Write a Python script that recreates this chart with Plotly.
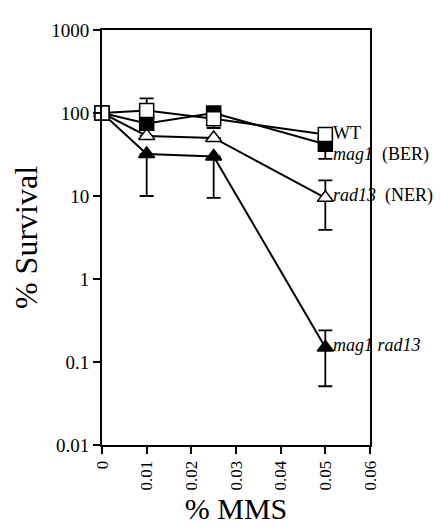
import math
import plotly.graph_objects as go

mms = [0, 0.01, 0.025, 0.05]

wt = [100, 107, 85, 55]
wt_up = [0, 43, 0, 0]
wt_dn = [0, 0, 19, 0]

mag1 = [100, 75, 100, 42]
mag1_up = [0, 0, 0, 0]
mag1_dn = [0, 0, 0, 14]

rad13 = [100, 53, 50, 9.5]
rad13_up = [0, 0, 0, 5.9]
rad13_dn = [0, 0, 0, 5.6]

dbl = [100, 32, 30, 0.15]
dbl_up = [0, 0, 0, 0.09]
dbl_dn = [0, 22, 20.5, 0.099]

y_ticks = [0.01, 0.1, 1, 10, 100, 1000]
y_tick_text = ["0.01", "0.1", "1", "10", "100", "1000"]
x_ticks = [0, 0.01, 0.02, 0.03, 0.04, 0.05, 0.06]
x_tick_text = ["0", "0.01", "0.02", "0.03", "0.04", "0.05", "0.06"]

FONT = "Liberation Serif, serif"

fig = go.Figure()

def add(y, up, dn, symbol, fill):
    fig.add_trace(go.Scatter(
        x=mms, y=y, mode="lines+markers", cliponaxis=False,
        line=dict(color="black", width=2),
        marker=dict(symbol=symbol, size=14, color=fill, line=dict(color="black", width=1.5)),
        error_y=dict(type="data", symmetric=False, array=up, arrayminus=dn,
                     color="black", thickness=1.8, width=7),
        showlegend=False,
    ))

add(dbl, dbl_up, dbl_dn, "triangle-up", "black")
add(rad13, rad13_up, rad13_dn, "triangle-up", "white")
add(mag1, mag1_up, mag1_dn, "square", "black")
add(wt, wt_up, wt_dn, "square", "white")

labels = [
    (wt[3], "WT", 0),
    (mag1[3], "<i>mag1</i>&nbsp;&nbsp;(BER)", -12),
    (rad13[3], "<i>rad13</i>&nbsp;&nbsp;(NER)", 0),
    (dbl[3], "<i>mag1 rad13</i>", 0),
]
for yv, txt, ys in labels:
    fig.add_annotation(x=0.05, y=math.log10(yv), xref="x", yref="y",
                       text=txt, showarrow=False, xanchor="left", xshift=6, yshift=ys + 2,
                       font=dict(family=FONT, size=18, color="black"))

fig.update_layout(
    width=441, height=532,
    margin=dict(l=94, r=79, t=19, b=95),
    paper_bgcolor="white", plot_bgcolor="white",
    font=dict(family=FONT, color="black"),
)
fig.update_xaxes(
    range=[0, 0.06], tickvals=x_ticks, ticktext=x_tick_text, tickangle=-90,
    ticks="outside", ticklen=7, tickwidth=1.5, tickcolor="black",
    showline=True, linecolor="black", linewidth=2, mirror=True,
    showgrid=False, zeroline=False, tickfont=dict(size=17, family=FONT),
    title=dict(text="% MMS", font=dict(size=30, family=FONT), standoff=8),
)
fig.update_yaxes(
    type="log", range=[-2, 3], tickvals=y_ticks, ticktext=y_tick_text,
    ticks="outside", ticklen=7, tickwidth=1.5, tickcolor="black",
    showline=True, linecolor="black", linewidth=2, mirror=True,
    showgrid=False, zeroline=False, tickfont=dict(size=19, family=FONT),
    title=dict(text="% Survival", font=dict(size=32, family=FONT), standoff=6),
)

fig.write_html("out.html")
